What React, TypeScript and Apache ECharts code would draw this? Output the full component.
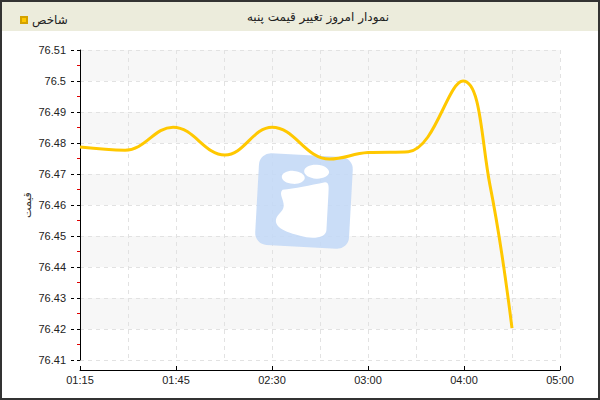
import React, { useEffect, useRef } from "react";
import * as echarts from "echarts";

const chartTitle = "نمودار امروز تغییر قیمت پنبه";
const seriesName = "شاخص";
const yAxisName = "قیمت";
const tickLabels = ["01:15", "01:45", "02:30", "03:00", "04:00", "05:00"];
// x positions in tick-index units (0 = 01:15, 1 = 01:45, ...)
const xPositions = [0, 0.47, 0.97, 1.51, 2.0, 2.6, 3.0, 3.42, 3.99, 4.27, 4.5];
const prices = [76.4787, 76.4777, 76.4851, 76.4761, 76.4851, 76.4748, 76.4769, 76.4772, 76.5, 76.4665, 76.4203];
const yMin = 76.41;
const yMax = 76.51;
const yStep = 0.01;

const logoPath =
  "M -22 -10 C -10 -12 5 -16 20 -20 C 24 -20 24 -16 24 -10 L 24 28 C 24 36 10 38 -2 35 C -10 33 -28 30 -27 20 C -26 14 -20 12 -20 6 C -20 0 -26 -6 -22 -10 Z";
echarts.graphic.registerShape("logo", echarts.graphic.extendPath(logoPath, {}) as any);

export default function App() {
  const ref = useRef<HTMLDivElement>(null);
  useEffect(() => {
    if (!ref.current) return;
    const chart = echarts.init(ref.current, null, { renderer: "svg" });
    const font = "'Liberation Sans', Arial, sans-serif";
    const fa = "'DejaVu Sans', sans-serif";
    const data = xPositions.map((x, i) => [x, prices[i]]);
    const cx = 304;
    const cy = 201;
    const rot = -0.055;
    chart.setOption({
      animation: false,
      backgroundColor: "#ffffff",
      legend: {
        left: 15,
        top: 9,
        icon: "rect",
        itemWidth: 6,
        itemHeight: 6,
        itemGap: 5,
        data: [seriesName],
        textStyle: { fontFamily: fa, fontSize: 12, color: "#222" },
      },
      grid: { left: 80, right: 40, top: 50, bottom: 40 },
      xAxis: {
        type: "value",
        min: 0,
        max: tickLabels.length - 1,
        interval: 1,
        offset: 10,
        axisLine: { show: true, onZero: false, lineStyle: { color: "#000", width: 1 } },
        axisTick: { show: true, inside: true, length: 4, lineStyle: { color: "#000" } },
        minorTick: { show: false, splitNumber: 2 },
        axisLabel: {
          color: "#222",
          fontFamily: font,
          fontSize: 11,
          margin: 4,
          formatter: (v: number) => tickLabels[Math.round(v)] ?? "",
        },
        splitLine: { show: true, lineStyle: { color: "#e2e2e2", type: [4, 4] } },
        minorSplitLine: { show: true, lineStyle: { color: "#e2e2e2", type: [4, 4] } },
      },
      yAxis: [
        {
          type: "value",
          min: yMin,
          max: yMax,
          interval: yStep,
          offset: 9,
          name: yAxisName,
          nameLocation: "middle",
          nameGap: 38,
          nameMoveOverlap: false,
          nameTextStyle: { fontFamily: fa, fontSize: 11, color: "#333" },
          axisLine: { show: true, lineStyle: { color: "#000", width: 1 } },
          axisTick: { show: true, length: 3, lineStyle: { color: "#000" } },
          minorTick: { show: true, splitNumber: 2, length: 3, lineStyle: { color: "#e00000" } },
          axisLabel: {
            color: "#222",
            fontFamily: font,
            fontSize: 11,
            margin: 5,
            formatter: (v: number) => String(+v.toFixed(2)),
          },
          splitLine: { show: true, lineStyle: { color: "#e2e2e2", type: [4, 4] } },
          splitArea: { show: true, areaStyle: { color: ["#ffffff", "#f7f7f7"] } },
        },
        {
          type: "value",
          min: yMin,
          max: yMax,
          interval: yStep,
          position: "left",
          offset: 9,
          axisLine: { show: false },
          axisTick: { show: true, inside: true, length: 3, lineStyle: { color: "#000" } },
          axisLabel: { show: false },
          splitLine: { show: false },
        },
      ],
      graphic: [
        { type: "rect", shape: { x: 0, y: 0, width: 600, height: 31 }, style: { fill: "#ececdc" }, z: 0 },
        {
          type: "text",
          x: 318,
          y: 17,
          style: { text: chartTitle, fill: "#222", font: "12px 'DejaVu Sans', sans-serif", textAlign: "center", textVerticalAlign: "middle" },
        },
        {
          type: "rect",
          x: cx,
          y: cy,
          rotation: rot,
          z: 1,
          shape: { x: -47, y: -46, width: 94, height: 92, r: 12 },
          style: { fill: "#c4d9f6", opacity: 0.9 },
        },
        { type: "ellipse", x: cx, y: cy, rotation: rot, z: 1, shape: { cx: -12, cy: -23, rx: 11.5, ry: 6.5 }, style: { fill: "#ffffff" } },
        { type: "ellipse", x: cx, y: cy, rotation: rot, z: 1, shape: { cx: 11, cy: -30, rx: 12.5, ry: 7 }, style: { fill: "#ffffff" } },
        { type: "logo", x: cx, y: cy, rotation: rot, scaleX: 1, scaleY: 1, z: 1, style: { fill: "#ffffff" } },
        { type: "rect", shape: { x: 1, y: 1, width: 598, height: 398 }, style: { fill: "none", stroke: "#333", lineWidth: 2 }, z: 100 },
      ],
      series: [
        {
          name: seriesName,
          type: "line",
          data,
          smooth: 0.4,
          showSymbol: false,
          symbol: "none",
          z: 5,
          lineStyle: { color: "#ffc800", width: 3 },
          itemStyle: { color: "#ffc800", borderColor: "#d4a200", borderWidth: 1 },
        },
      ],
    });
    return () => chart.dispose();
  }, []);
  return <div ref={ref} style={{ position: "fixed", left: 0, top: 0, width: 600, height: 400 }} />;
}
